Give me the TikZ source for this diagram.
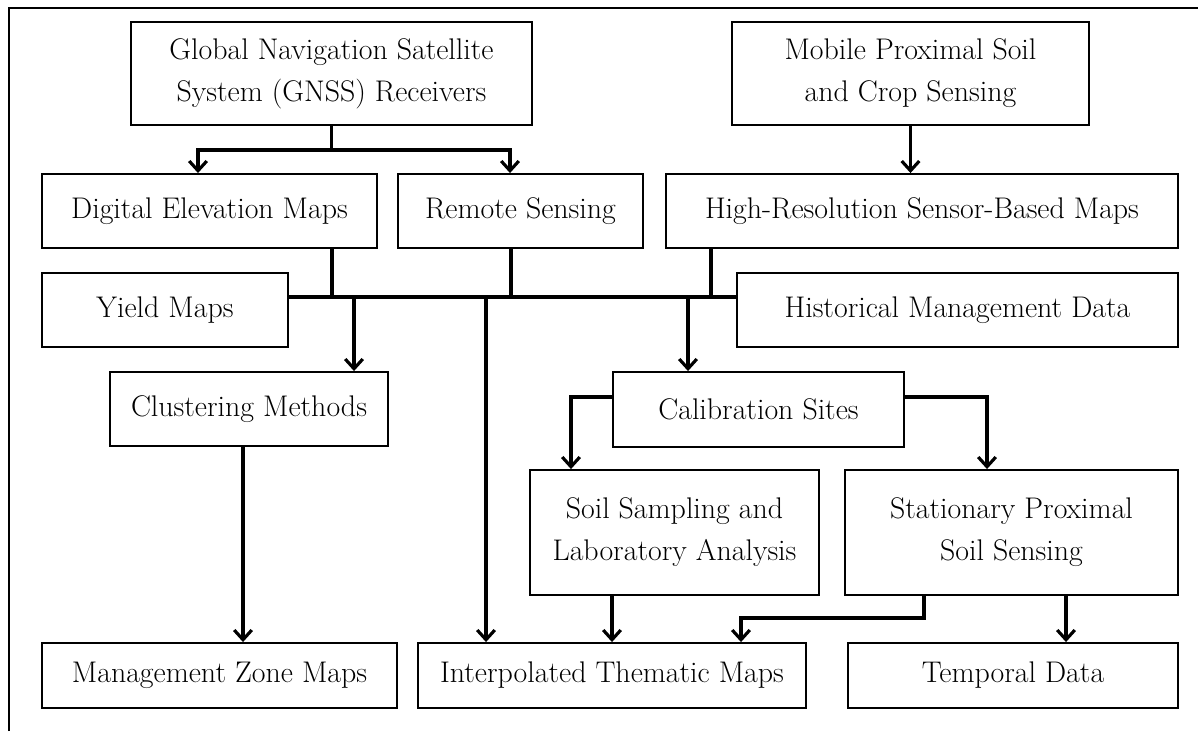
\documentclass[tikz,border=0pt]{standalone}
\usetikzlibrary{arrows.meta,positioning}

\begin{document}
\begin{tikzpicture}[% one unit is 0.02cm, y grows downwards
			x=0.02cm,y=-0.02cm,
			every node/.style={
				align=center,  		% so that "\\" breaks the line
				font=\fontsize{17}{24}\selectfont
			},
			box/.style={rectangle,draw=black,line width=1.1pt,fill=white,inner sep=0pt,minimum height=1.48cm},
			conn/.style={draw,line width=2.2pt},
			arr/.style={conn,-{Straight Barb[length=5.5pt,width=10pt,line width=1.8pt]}}
		]
		\useasboundingbox (0,0) rectangle (1198,731);
		\draw[line width=1.5pt] (9,731) -- (9,8) -- (1198,8);

		% top row
		\node[box,minimum width=8.02cm,minimum height=2.06cm](gnss) at (331.5,73.5){Global Navigation Satellite\\System (GNSS) Receivers};
		\node[box,minimum width=7.14cm,minimum height=2.06cm](mobile) at (910.5,73.5){Mobile Proximal Soil\\and Crop Sensing};
		% map sources
		\node[box,minimum width=6.7cm](dem) at (209.5,211){Digital Elevation Maps};
		\node[box,minimum width=4.9cm](rs) at (520.5,211){Remote Sensing};
		\node[box,minimum width=10.24cm](hr) at (922,211){High-Resolution Sensor-Based Maps};
		\node[box,minimum width=4.92cm](yield) at (165,310){Yield Maps};
		\node[box,minimum width=8.82cm](hist) at (957.5,310){Historical Management Data};
		% processing
		\node[box,minimum width=5.56cm](clus) at (249,409){Clustering Methods};
		\node[box,minimum width=5.82cm,minimum height=1.5cm](calib) at (758.5,409.5){Calibration Sites};
		\node[box,minimum width=5.78cm,minimum height=2.5cm](soil) at (674.5,532.5){Soil Sampling and\\Laboratory Analysis};
		\node[box,minimum width=6.66cm,minimum height=2.5cm](stat) at (1011.5,532.5){Stationary Proximal\\Soil Sensing};
		% outputs
		\node[box,minimum width=7.1cm,minimum height=1.3cm](mgmt) at (219.5,675.5){Management Zone Maps};
		\node[box,minimum width=7.76cm,minimum height=1.3cm](interp) at (612,675.5){Interpolated Thematic Maps};
		\node[box,minimum width=6.6cm,minimum height=1.3cm](temp) at (1013,675.5){Temporal Data};

		% bend points
		\coordinate (g1) at (198,150);
		\coordinate (g2) at (510,150);
		\coordinate (busL) at (288,297);
		\coordinate (busR) at (737,297);
		\coordinate (s1) at (332,297);
		\coordinate (s2) at (511,297);
		\coordinate (s3) at (711,297);
		\coordinate (d1) at (354,297);
		\coordinate (d2) at (486,297);
		\coordinate (d3) at (688,297);
		\coordinate (c1) at (571,397);
		\coordinate (c2) at (987,397);
		\coordinate (e1) at (612,620);
		\coordinate (e2) at (924,618);
		\coordinate (e3) at (741,618);
		\coordinate (e4) at (1066,620);
		\coordinate (e5) at (243,620);

		\draw[arr] (gnss.south) |- (g1) -- (g1 |- dem.north);
		\draw[arr] (gnss.south) |- (g2) -- (g2 |- rs.north);
		\draw[arr] (mobile.south) -- (mobile.south |- hr.north);

		% collecting line
		\draw[conn] (busL) -- (busR);
		\draw[conn] (s1 |- dem.south) -- (s1);
		\draw[conn] (s2 |- rs.south) -- (s2);
		\draw[conn] (s3 |- hr.south) -- (s3);
		\draw[arr] (d1) -- (d1 |- clus.north);
		\draw[arr] (d2) -- (d2 |- interp.north);
		\draw[arr] (d3) -- (d3 |- calib.north);

		\draw[arr] (calib.west |- c1) -| (c1 |- soil.north);
		\draw[arr] (calib.east |- c2) -| (c2 |- stat.north);

		\draw[arr] (clus.south -| e5) -- (e5 |- mgmt.north);
		\draw[arr] (soil.south -| e1) -- (e1 |- interp.north);
		\draw[arr] (stat.south -| e2) -- (e2) -- (e3) -- (e3 |- interp.north);
		\draw[arr] (stat.south -| e4) -- (e4 |- temp.north);
	\end{tikzpicture}
\end{document}
